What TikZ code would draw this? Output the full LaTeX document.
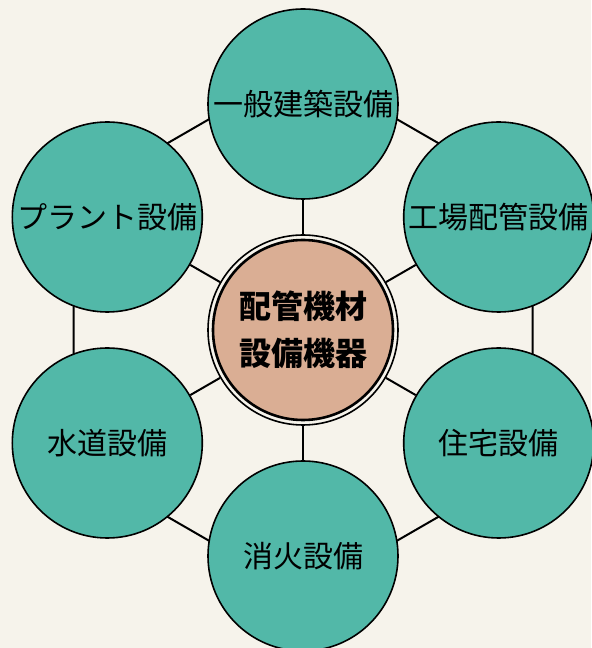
\documentclass[tikz,border=0pt]{standalone}
\usepackage{fontspec}
\newfontfamily\cjk{Noto Sans CJK JP}
\definecolor{bgcream}{HTML}{F6F3EB}
\definecolor{tealfill}{HTML}{52B8A8}
\definecolor{tanfill}{HTML}{DAAE94}

\begin{document}
\begin{tikzpicture}[x=0.5pt,y=0.5pt,
  field/.style={circle,draw=black,line width=0.8pt,fill=tealfill,minimum size=95pt,inner sep=0pt,
    font=\cjk\fontsize{15}{18}\selectfont},
  link/.style={line width=1pt}]
\fill[bgcream] (0,0) rectangle (591,648);
\useasboundingbox (0,0) rectangle (591,648);

% outer frame corners
\coordinate (h1) at (303,583);
\coordinate (h2) at (73.5,450.5);
\coordinate (h3) at (73.5,185.5);
\coordinate (h4) at (303,53);
\coordinate (h5) at (532.5,185.5);
\coordinate (h6) at (532.5,450.5);
\draw[link] (h1) -- (h2) -- (h3) -- (h4) -- (h5) -- (h6) -- cycle;

% fields
\node[field] (general) at (303,544) {一般建築設備};
\node[field] (plant) at (107.3,431) {プラント設備};
\node[field] (water) at (107.3,205) {水道設備};
\node[field] (fire) at (303,92) {消火設備};
\node[field] (house) at (498.7,205) {住宅設備};
\node[field] (factory) at (498.7,431) {工場配管設備};

% centre
\node[circle,draw=black,line width=0.8pt,fill=bgcream,minimum size=95pt] (ring) at (303,318) {};
\node[circle,draw=black,line width=1.3pt,fill=tanfill,minimum size=90pt,inner sep=0pt,align=center,
  font=\cjk\bfseries\fontsize{16}{23.5}\selectfont] (core) at (303,318) {配管機材\\設備機器};

\draw[link] (ring) -- (general);
\draw[link] (ring) -- (plant);
\draw[link] (ring) -- (water);
\draw[link] (ring) -- (fire);
\draw[link] (ring) -- (house);
\draw[link] (ring) -- (factory);
\end{tikzpicture}
\end{document}
